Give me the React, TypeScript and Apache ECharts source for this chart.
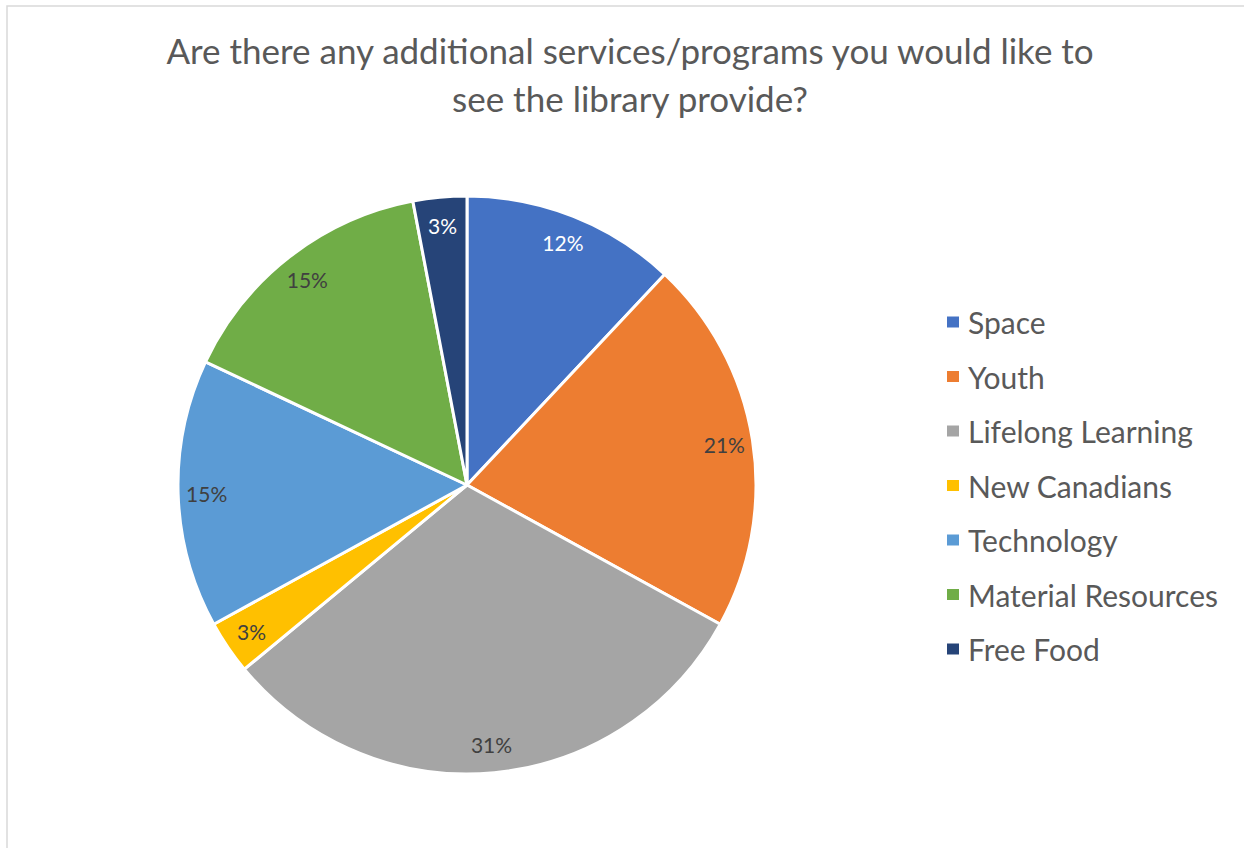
import React, { useEffect, useRef } from "react";
import * as echarts from "echarts";

const titleLines = [
  "Are there any additional services/programs you would like to",
  "see the library provide?",
];
const categories = [
  "Space",
  "Youth",
  "Lifelong Learning",
  "New Canadians",
  "Technology",
  "Material Resources",
  "Free Food",
];
const values = [12, 21, 31, 3, 15, 15, 3];
const colors = ["#4472C4", "#ED7D31", "#A5A5A5", "#FFC000", "#5B9BD5", "#70AD47", "#264478"];
const labelColors = ["#ffffff", "#404040", "#404040", "#404040", "#404040", "#404040", "#ffffff"];

const FONT = "Lato, 'Noto Sans', sans-serif";

export default function App() {
  const ref = useRef<HTMLDivElement>(null);
  useEffect(() => {
    document.body.style.margin = "0";
    const chart = echarts.init(ref.current!, null, { renderer: "svg" });
    const center = [467, 485];
    const R = 289;
    chart.setOption({
      animation: false,
      backgroundColor: "#ffffff",
      color: colors,
      title: {
        text: titleLines.join("\n"),
        left: 625,
        top: 21,
        textAlign: "center",
        textStyle: {
          fontFamily: FONT,
          fontSize: 35,
          fontWeight: "normal",
          color: "#595959",
          lineHeight: 48,
        },
      },
      legend: {
        orient: "vertical",
        left: 940,
        top: 302,
        data: categories,
        icon: "rect",
        itemWidth: 14,
        itemHeight: 13,
        itemGap: 24.5,
        textStyle: {
          fontFamily: FONT,
          fontSize: 30,
          color: "#595959",
          lineHeight: 30,
          padding: [0, 0, 0, 3],
        },
        selectedMode: false,
      },
      graphic: [
        {
          type: "rect",
          shape: { x: 7, y: 6, width: 1400, height: 1000 },
          style: { fill: "none", stroke: "#d9d9d9", lineWidth: 1.5 },
          silent: true,
        },
      ],
      series: [
        {
          type: "pie",
          center,
          radius: [0, R],
          startAngle: 90,
          clockwise: true,
          label: { show: false },
          labelLine: { show: false },
          itemStyle: { borderColor: "#ffffff", borderWidth: 3 },
          emphasis: { disabled: true },
          data: categories.map((name, i) => ({ name, value: values[i] })),
        },
        {
          type: "pie",
          center,
          radius: [226, R],
          startAngle: 90,
          clockwise: true,
          silent: true,
          legendHoverLink: false,
          itemStyle: { color: "rgba(0,0,0,0)", borderWidth: 0 },
          emphasis: { disabled: true },
          labelLine: { show: false },
          label: {
            show: true,
            position: "inside",
            formatter: "{c}%",
            fontFamily: FONT,
            fontSize: 21,
          },
          data: categories.map((name, i) => ({
            name,
            value: values[i],
            label: { color: labelColors[i] },
          })),
        },
      ],
    });
    return () => chart.dispose();
  }, []);
  return <div ref={ref} style={{ width: 1244, height: 848 }} />;
}
